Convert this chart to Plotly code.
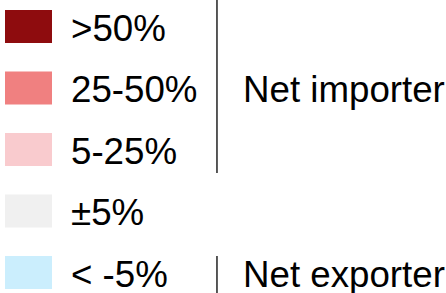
import plotly.graph_objects as go

categories = [">50%", "25-50%", "5-25%", "±5%", "< -5%"]
colors = ["#8e0c0e", "#f08080", "#f9cbce", "#f0f0f0", "#cbeefd"]
swatch_values = [1, 1, 1, 1, 1]
groups = ["Net importer", "Net exporter"]
group_members = [[0, 1, 2], [4]]

FONT = "Liberation Sans, Arial, sans-serif"
FS = 36.7

idx = list(range(len(categories)))

fig = go.Figure()
fig.add_trace(go.Bar(
    y=idx, x=swatch_values, base=0, orientation="h",
    marker=dict(color=colors, line=dict(width=0)),
    width=0.537, hoverinfo="skip", showlegend=False,
))

# category labels
for i, c in enumerate(categories):
    fig.add_annotation(x=1.36, y=i + 0.03, xref="x", yref="y", text=c, showarrow=False,
                       xanchor="left", yanchor="middle",
                       font=dict(family=FONT, size=FS, color="#000"))

# group brackets and labels
pads = [(-0.45, 0.38), (-0.27, 0.4)]
for g, mem, (p0, p1) in zip(groups, group_members, pads):
    y0, y1 = min(mem) + p0, max(mem) + p1
    fig.add_shape(type="line", xref="x", yref="y", x0=4.51, x1=4.51, y0=y0, y1=y1,
                  line=dict(color="#222", width=1.5))
    fig.add_annotation(x=5.02, y=(min(mem) + max(mem)) / 2 + 0.03, xref="x", yref="y", text=g,
                       showarrow=False, xanchor="left", yanchor="middle",
                       font=dict(family=FONT, size=FS, color="#000"))

fig.update_layout(
    width=446, height=293, margin=dict(l=0, r=0, t=0, b=0),
    paper_bgcolor="white", plot_bgcolor="white",
    xaxis=dict(range=[-5 / 47, 441 / 47], visible=False, fixedrange=True),
    yaxis=dict(range=[4.333, -0.431], visible=False, fixedrange=True),
    showlegend=False,
)
fig.write_html("out.html", config={"displayModeBar": False},
               post_script="document.body.style.margin='0';document.body.style.overflow='hidden';")
